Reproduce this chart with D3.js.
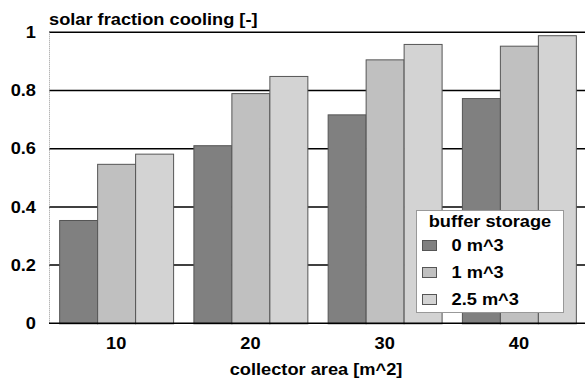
<!DOCTYPE html>
<html>
<head>
<meta charset="utf-8">
<script src="https://cdn.jsdelivr.net/npm/d3@7"></script>
<style>
  html, body { margin: 0; padding: 0; background: #fff; }
  svg { display: block; }
  text { font-family: "Liberation Sans", Arial, sans-serif; font-weight: bold; fill: #000; font-size: 16px; }
</style>
</head>
<body>
<svg id="chart" width="585" height="383"></svg>
<script>
// Collector areas [m^2]
const areas = ["10", "20", "30", "40"];
// Buffer storage volumes (legend labels)
const storages = ["0 m^3", "1 m^3", "2.5 m^3"];
// Solar fraction cooling for each storage volume, per collector area
const frac0 = [0.355, 0.612, 0.718, 0.774];
const frac1 = [0.548, 0.791, 0.907, 0.954];
const frac25 = [0.583, 0.850, 0.960, 0.990];
const yTicks = [0, 0.2, 0.4, 0.6, 0.8, 1];
const yTickLabels = ["0", "0.2", "0.4", "0.6", "0.8", "1"];

const series = [frac0, frac1, frac25];
const fills = ["#808080", "#c0c0c0", "#d3d3d3"];

const svg = d3.select("#chart");
const plotLeft = 49, plotRight = 586, plotTop = 32.3, plotBottom = 323.3;
const stretch = 1.14; // wide bold lettering

const x = d3.scaleBand().domain(areas).range([plotLeft, plotRight])
  .paddingInner(20.3 / 134.3).paddingOuter(10.15 / 134.3);
const xs = d3.scaleBand().domain(storages).range([0, x.bandwidth()]);
const y = d3.scaleLinear().domain([0, 1]).range([plotBottom, plotTop]);

// Place a text node at (px, py) with horizontal stretch
function place(sel, px, py) {
  return sel.attr("transform", function (d, i) {
    const a = typeof px === "function" ? px(d, i) : px;
    const b = typeof py === "function" ? py(d, i) : py;
    return `translate(${a},${b}) scale(${stretch},1)`;
  });
}

// Horizontal grid lines
svg.append("g").selectAll("line").data(yTicks.filter(d => d > 0)).join("line")
  .attr("x1", plotLeft).attr("x2", 585)
  .attr("y1", d => y(d)).attr("y2", d => y(d))
  .attr("stroke", "#000").attr("stroke-width", 1.5);

// Bars
const groups = svg.append("g").selectAll("g").data(areas).join("g")
  .attr("transform", d => `translate(${x(d)},0)`);
groups.selectAll("rect")
  .data((a, i) => series.map((s, k) => ({ k, v: s[i] })))
  .join("rect")
  .attr("x", d => xs(storages[d.k]) + 0.5)
  .attr("width", xs.bandwidth())
  .attr("y", d => y(d.v) + 0.5)
  .attr("height", d => plotBottom - y(d.v))
  .attr("fill", d => fills[d.k])
  .attr("stroke", "#555")
  .attr("stroke-width", 1);

// Left axis line
svg.append("line")
  .attr("x1", plotLeft + 0.5).attr("x2", plotLeft + 0.5)
  .attr("y1", plotTop).attr("y2", plotBottom)
  .attr("stroke", "#999").attr("stroke-width", 1)
  .attr("stroke-dasharray", "1,1");

// Zero baseline
svg.append("line")
  .attr("x1", plotLeft).attr("x2", 585)
  .attr("y1", plotBottom).attr("y2", plotBottom)
  .attr("stroke", "#000").attr("stroke-width", 1.5);

// Y tick labels
place(svg.append("g").selectAll("text").data(yTicks).join("text")
  .attr("dy", "0.36em")
  .attr("text-anchor", "end")
  .text((d, i) => yTickLabels[i]), 36, d => y(d));

// X tick labels
place(svg.append("g").selectAll("text").data(areas).join("text")
  .attr("text-anchor", "middle")
  .text(d => d), d => x(d) + x.bandwidth() / 2, 348.5);

// Titles
place(svg.append("text").text("solar fraction cooling [-]"), 49, 25);
place(svg.append("text").attr("text-anchor", "middle")
  .text("collector area [m^2]"), 316, 375);

// Legend
const lg = svg.append("g").attr("transform", "translate(416.5,210.5)");
lg.append("rect").attr("width", 147).attr("height", 102)
  .attr("fill", "#fff").attr("stroke", "#999").attr("stroke-width", 1);
place(lg.append("text").attr("text-anchor", "middle").text("buffer storage"), 73.5, 16.5);
const rows = lg.selectAll("g.row").data(storages).join("g").attr("class", "row")
  .attr("transform", (d, i) => `translate(0,${30 + i * 27})`);
rows.append("rect").attr("x", 6).attr("width", 14).attr("height", 10)
  .attr("fill", (d, i) => fills[i]).attr("stroke", "#555").attr("stroke-width", 1);
place(rows.append("text").text(d => d), 35, 10.5);
</script>
</body>
</html>
